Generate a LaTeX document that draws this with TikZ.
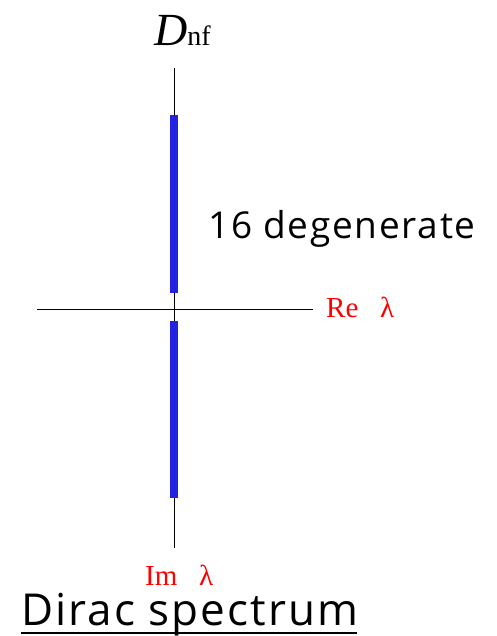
\documentclass[tikz,border=0pt]{standalone}
\usepackage{fontspec}
\setmainfont{Liberation Serif}
\newfontfamily\gillfont{Open Sans}
\definecolor{barblue}{RGB}{35,35,225}
\definecolor{lblred}{RGB}{255,0,0}
\begin{document}
\begin{tikzpicture}[x=1pt,y=-1pt,
  axis/.style={draw=black,line width=0.9pt},
  specbar/.style={draw=none,fill=barblue},
  redlbl/.style={text=lblred,inner sep=0pt,anchor=base west,font=\fontsize{29}{29}\selectfont},
  biglbl/.style={inner sep=0pt,anchor=base west}]
\useasboundingbox (0,0) rectangle (496,636);
% axes
\coordinate (vtop) at (174,68);
\coordinate (vbot) at (174,548);
\coordinate (hleft) at (37,309);
\coordinate (hright) at (313,309);
\draw[axis] (vtop) -- (vbot);
\draw[axis] (hleft) -- (hright);
% spectral bars
\node[specbar,minimum width=8pt,minimum height=178pt,inner sep=0pt] (upbar) at (173.5,204) {};
\node[specbar,minimum width=8pt,minimum height=177pt,inner sep=0pt] (lobar) at (173.5,409.5) {};
% labels
\node[biglbl] (dnf) at (154,46) {\fontsize{46}{46}\selectfont\textit{D}\fontsize{28}{28}\selectfont nf};
\node[redlbl] (re) at (326,317) {Re\hspace{0.75em}λ};
\node[redlbl] (im) at (145,585) {Im\hspace{0.75em}λ};
\node[biglbl] (deg) at (208,238) {\gillfont\addfontfeature{LetterSpace=4.6}\fontsize{37}{37}\selectfont 16 degenerate};
\node[biglbl] (title) at (21,625) {\gillfont\addfontfeature{LetterSpace=4.7}\fontsize{44}{44}\selectfont Dirac spectrum};
\draw[line width=1.4pt] (21,633) -- (357,633);
\end{tikzpicture}
\end{document}
